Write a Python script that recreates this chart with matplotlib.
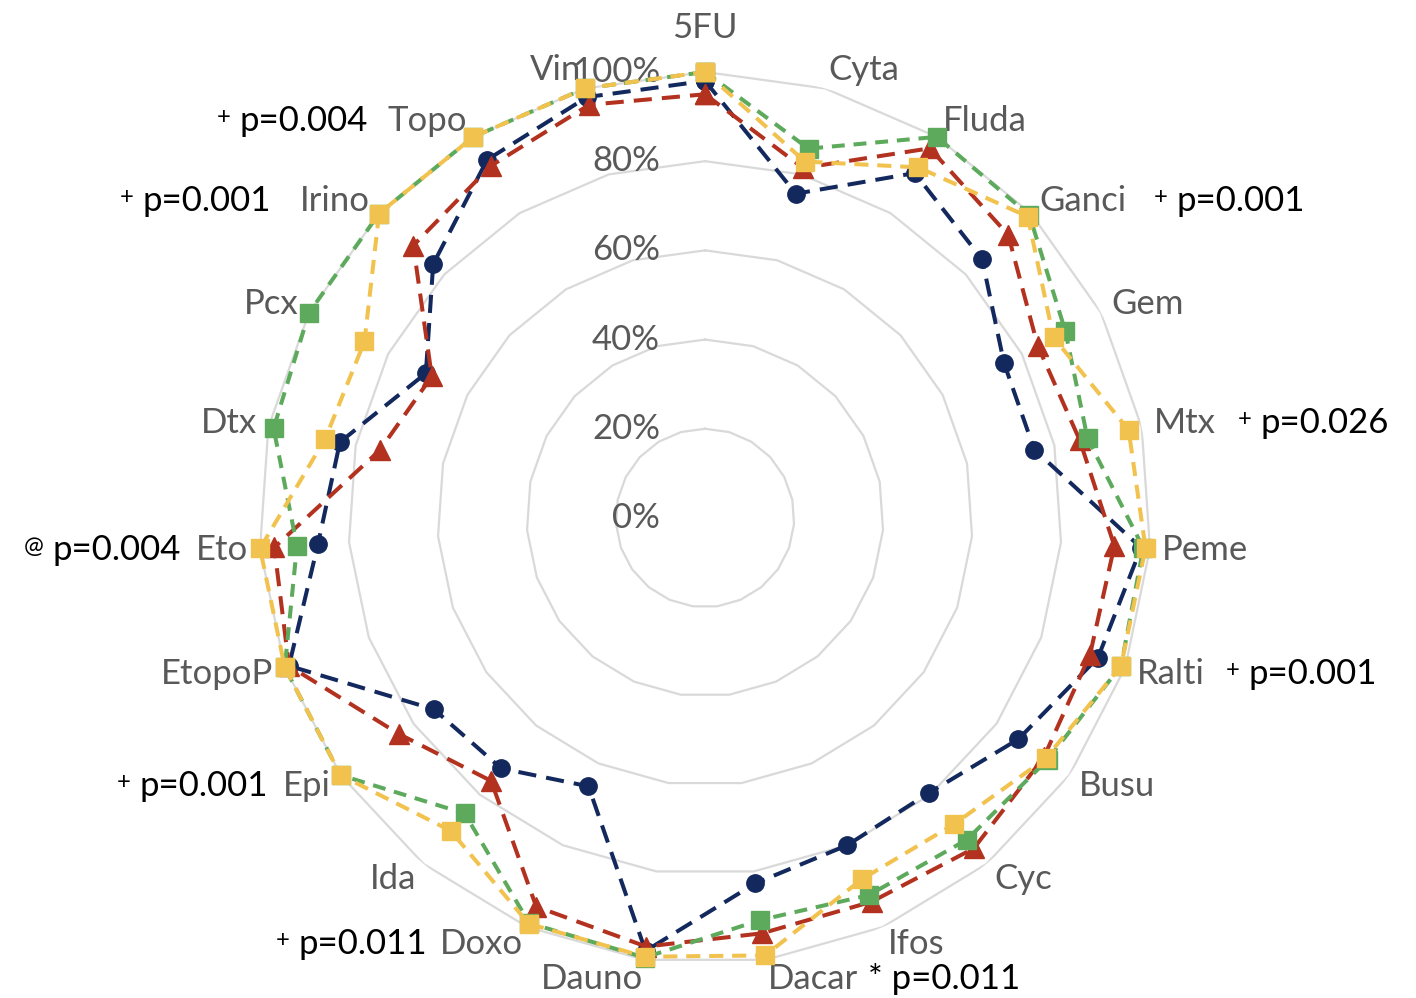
import numpy as np
import matplotlib.pyplot as plt

drugs = ["5FU", "Cyta", "Fluda", "Ganci", "Gem", "Mtx", "Peme", "Ralti",
         "Busu", "Cyc", "Ifos", "Dacar", "Dauno", "Doxo", "Ida", "Epi",
         "EtopoP", "Eto", "Dtx", "Pcx", "Irino", "Topo", "Vin"]

# values in %
navy_vals = [98, 75.5, 90.5, 85, 75.5, 75.4, 98, 93.5, 86, 79.5, 80, 82.7,
             98, 65.6, 72.4, 74.4, 99, 87, 83.6, 70.5, 83.4, 94, 98]
red_vals = [95, 81.5, 97, 93, 84, 85.8, 92, 91.6, 93, 95.5, 93.8, 94,
            97, 95, 76, 84, 99, 96.8, 74.5, 69, 89.5, 92.4, 96.2]
green_vals = [100, 86, 100, 99.5, 91, 87.6, 98.5, 99, 94, 93, 92.2, 91,
              99.5, 99, 85.4, 100, 100, 91.7, 98.8, 100, 100, 100, 100]
yellow_vals = [100, 83, 92, 99, 88, 97, 99, 99, 93.5, 88.5, 88.3, 99,
               99.3, 99.2, 90.4, 100, 100, 100, 87, 86, 100, 100, 100]

ring_levels = [0, 20, 40, 60, 80, 100]
ring_labels = ["0%", "20%", "40%", "60%", "80%", "100%"]

# p-value notes: drug, superscript mark, text, side, gap (px)
notes = [
    ("Ganci", "+", "p=0.001", "right", 50),
    ("Mtx", "+", "p=0.026", "right", 45),
    ("Ralti", "+", "p=0.001", "right", 44),
    ("Dacar", "", "* p=0.011", "right", 10),
    ("Doxo", "+", "p=0.011", "left", 12),
    ("Epi", "+", "p=0.001", "left", 15),
    ("Eto", "@", "p=0.004", "left", 15),
    ("Irino", "+", "p=0.001", "left", 29),
    ("Topo", "+", "p=0.004", "left", 20),
]

plt.rcParams["font.family"] = ["Lato", "DejaVu Sans"]

fig = plt.figure(figsize=(14.16, 9.98), dpi=100)
ax = fig.add_axes([0.1829, 0.0341, 0.63, 0.8938], projection="polar")
ax.set_theta_zero_location("N")
ax.set_theta_direction(-1)
ax.set_ylim(0, 100)
ax.grid(False)
ax.set_xticks([])
ax.set_yticks([])
ax.spines["polar"].set_visible(False)

n = len(drugs)
theta = np.arange(n) * 2 * np.pi / n
theta_closed = np.append(theta, theta[0])

for lvl in ring_levels[1:]:
    ax.plot(theta_closed, [lvl] * (n + 1), color="#D9D9D9", lw=1.6, zorder=1)

series = [
    (navy_vals, "#13295E", "o", 12.5, (4.5, 2.5)),
    (red_vals, "#B3321F", "^", 14.5, (4.5, 2.5)),
    (green_vals, "#5EAA5C", "s", 13.5, (3.2, 2.2)),
    (yellow_vals, "#F2C24F", "s", 13.5, (3.5, 2.2)),
]
for i, (vals, col, mk, ms, dash) in enumerate(series):
    v = np.append(vals, vals[0])
    ax.plot(theta_closed, v, color=col, lw=2.9, dashes=dash,
            marker=mk, markersize=ms, markerfacecolor=col,
            markeredgecolor=col, zorder=3 + i, clip_on=False)

for lvl, lab in zip(ring_levels, ring_labels):
    ax.annotate(lab, xy=(0, lvl), xytext=(-45, 0), textcoords="offset pixels",
                ha="right", va="center", fontsize=25, color="#595959",
                zorder=2)

labels = []
for t, name in zip(theta, drugs):
    lab = ax.annotate(name, xy=(t, 100), xytext=(0, 0),
                      textcoords="offset pixels", ha="center", va="center",
                      fontsize=25, color="#595959", annotation_clip=False)
    labels.append(lab)

fig.canvas.draw()
renderer = fig.canvas.get_renderer()
for t, lab in zip(theta, labels):
    w = lab.get_window_extent(renderer).width
    h = 30
    s, c = np.sin(t), np.cos(t)
    if s > 0.1:
        hx = w / 2
    elif s < -0.1:
        hx = -w / 2
    else:
        hx = s * w / 2
    dx = 12 * s + hx
    dy = 4 * c + c * h / 2
    if abs(s) < 0.05 and c > 0:
        dy += 25
    lab.xyann = (dx, dy)

label_of = dict(zip(drugs, labels))
for drug, mark, txt, side, gap in notes:
    lab = label_of[drug]
    if side == "right":
        note = ax.annotate(txt, xy=(1, 0.5), xycoords=lab, xytext=(gap, 0),
                           textcoords="offset pixels", ha="left", va="center",
                           fontsize=25, color="black")
    else:
        note = ax.annotate(txt, xy=(0, 0.5), xycoords=lab, xytext=(-gap, 0),
                           textcoords="offset pixels", ha="right", va="center",
                           fontsize=25, color="black")
    if mark:
        ax.annotate(mark, xy=(0, 1), xycoords=note, xytext=(-9, -2),
                    textcoords="offset pixels", ha="right", va="top",
                    fontsize=17, color="black")

fig.savefig("out.png", dpi=100, facecolor="white")
